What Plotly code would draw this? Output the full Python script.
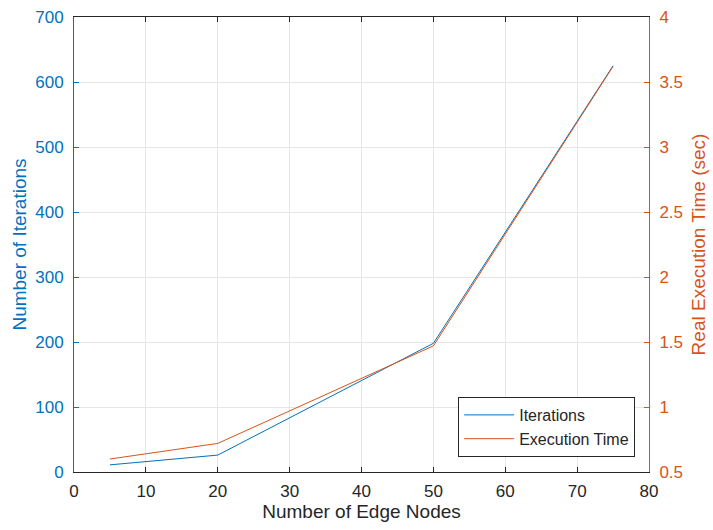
import plotly.graph_objects as go

edge_nodes = [5, 20, 50, 75]
iterations = [11, 26, 198, 625]
exec_time = [0.60, 0.72, 1.47, 3.62]

blue = "#0072BD"
orange = "#D95319"
font = "Liberation Sans, Arial, sans-serif"

fig = go.Figure()
fig.add_trace(go.Scatter(x=edge_nodes, y=iterations, mode="lines", name="Iterations",
                         line=dict(color=blue, width=1), yaxis="y"))
fig.add_trace(go.Scatter(x=edge_nodes, y=exec_time, mode="lines", name="Execution Time",
                         line=dict(color=orange, width=1), yaxis="y2"))

fig.update_layout(
    width=713, height=530,
    margin=dict(l=74, r=64, t=17, b=58),
    paper_bgcolor="white", plot_bgcolor="white",
    font=dict(family=font, size=17, color="#262626"),
    xaxis=dict(range=[0, 80], tickvals=list(range(0, 81, 10)),
               showgrid=True, gridcolor="#E6E6E6", gridwidth=1,
               showline=True, linecolor="#262626", linewidth=1, mirror="ticks",
               ticks="inside", ticklen=5, tickcolor="#262626", zeroline=False,
               ticklabelstandoff=4, automargin=False,
               title=dict(text="Number of Edge Nodes", font=dict(size=19, color="#262626"), standoff=4),
               tickfont=dict(size=17, color="#262626")),
    yaxis=dict(range=[0, 700], tickvals=list(range(0, 701, 100)),
               showgrid=True, gridcolor="#E6E6E6", gridwidth=1,
               showline=True, linecolor=blue, linewidth=1,
               ticks="inside", ticklen=5, tickcolor=blue, zeroline=False,
               ticklabelstandoff=6, automargin=False,
               title=dict(text="Number of Iterations", font=dict(size=19, color=blue), standoff=3),
               tickfont=dict(size=17, color=blue)),
    yaxis2=dict(range=[0.5, 4], tickvals=[0.5, 1, 1.5, 2, 2.5, 3, 3.5, 4],
                ticktext=["0.5", "1", "1.5", "2", "2.5", "3", "3.5", "4"],
                overlaying="y", side="right", showgrid=False,
                showline=True, linecolor=orange, linewidth=1,
                ticks="inside", ticklen=5, tickcolor=orange, zeroline=False,
                ticklabelstandoff=6, automargin=False,
                title=dict(text="Real Execution Time (sec)", font=dict(size=19, color=orange), standoff=9),
                tickfont=dict(size=17, color=orange)),
    legend=dict(x=0.976, y=0.033, xanchor="right", yanchor="bottom",
                bgcolor="white", bordercolor="#262626", borderwidth=1,
                font=dict(size=16, color="#262626"), tracegroupgap=0,
                itemwidth=50),
    showlegend=True,
)

fig.write_html("out.html")
